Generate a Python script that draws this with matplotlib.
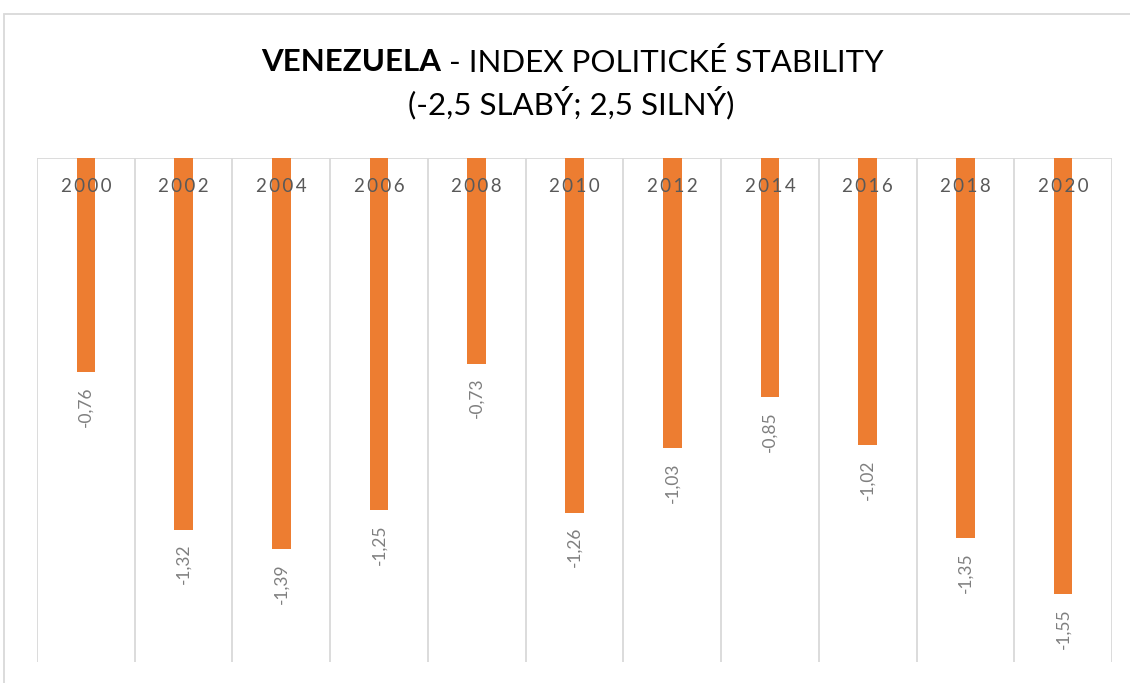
import matplotlib.pyplot as plt
from matplotlib.patches import Rectangle

years = ['2000', '2002', '2004', '2006', '2008', '2010', '2012', '2014', '2016', '2018', '2020']
values = [-0.76, -1.32, -1.39, -1.25, -0.73, -1.26, -1.03, -0.85, -1.02, -1.35, -1.55]
labels = ['-0,76', '-1,32', '-1,39', '-1,25', '-0,73', '-1,26', '-1,03', '-0,85', '-1,02', '-1,35', '-1,55']

plt.rcParams['font.family'] = ['Lato', 'DejaVu Sans']

fig = plt.figure(figsize=(11.3, 6.83), dpi=100)
ax = fig.add_axes([37 / 1130, 1 - 662 / 683, 1075 / 1130, 504 / 683])

x = list(range(len(years)))
ax.bar(x, values, width=0.19, color='#ed7d31', zorder=2)

ax.set_xlim(-0.5, len(years) - 0.5)
ax.set_ylim(-1.79, 0)

# vertical separators between categories
for i in range(len(years) + 1):
    ax.axvline(i - 0.5, color='#d9d9d9', linewidth=1.3, zorder=1)
ax.axhline(0, color='#d9d9d9', linewidth=1.3, zorder=1)

# year labels are letter-spaced in the original, use thin spaces
for xi, yr in zip(x, years):
    ax.text(xi, -0.1, '\u2009'.join(yr), ha='center', va='center', fontsize=13.5,
            color='#595959', zorder=3)

for xi, v, lab in zip(x, values, labels):
    ax.text(xi, v - 0.05, lab, ha='center', va='top', rotation=90,
            fontsize=12.5, color='#7f7f7f', zorder=3)

ax.set_xticks([])
ax.set_yticks([])
for s in ax.spines.values():
    s.set_visible(False)

# title: bold country name + regular rest
t1 = fig.text(0.5, 1 - 62 / 683, 'VENEZUELA', fontsize=22.5, fontweight='bold',
              ha='left', va='center', color='black')
t2 = fig.text(0.5, 1 - 62 / 683, ' - INDEX POLITICKÉ STABILITY', fontsize=22.5,
              ha='left', va='center', color='black')
fig.canvas.draw()
r = fig.canvas.get_renderer()
w1 = t1.get_window_extent(r).width / 1130
w2 = t2.get_window_extent(r).width / 1130
start = 572 / 1130 - (w1 + w2) / 2
t1.set_x(start)
t2.set_x(start + w1)
fig.text(571 / 1130, 1 - 103 / 683, '(-2,5 SLABÝ; 2,5 SILNÝ)', fontsize=22.5,
         ha='center', va='center', color='black')

# outer chart border
fig.patches.append(Rectangle((4 / 1130, -0.01), 1.0, 1 - 14 / 683 + 0.01,
                             transform=fig.transFigure, fill=False,
                             edgecolor='#d9d9d9', linewidth=1.3))

fig.savefig('out.png', dpi=100)
